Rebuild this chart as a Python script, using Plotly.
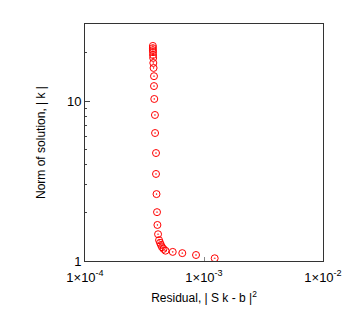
import plotly.graph_objects as go

# Residual |S k - b|^2 (x) and norm of solution |k| (y)
residual = [3.72e-4, 3.72e-4, 3.72e-4, 3.73e-4, 3.73e-4, 3.74e-4, 3.75e-4,
            3.77e-4, 3.80e-4, 3.80e-4, 3.82e-4, 3.87e-4, 3.88e-4, 3.95e-4,
            3.95e-4, 3.99e-4, 4.03e-4, 4.06e-4, 4.11e-4, 4.19e-4, 4.27e-4,
            4.35e-4, 4.44e-4, 4.57e-4, 4.75e-4, 5.46e-4, 6.57e-4, 8.57e-4,
            1.23e-3]
norm = [22.1, 21.4, 20.8, 20.2, 19.4, 18.6, 17.3, 16.1, 14.3, 12.4, 10.3,
        8.18, 6.31, 4.73, 3.50, 2.62, 2.02, 1.68, 1.47, 1.35, 1.30, 1.26,
        1.22, 1.19, 1.16, 1.14, 1.12, 1.09, 1.04]

x_tickvals = [1e-4, 1e-3, 1e-2]
x_ticktext = ["1×10<sup>-4</sup>", "1×10<sup>-3</sup>", "1×10<sup>-2</sup>"]
y_tickvals = [1, 10]
y_ticktext = ["1", "10"]
y_minor = [2, 3, 4, 5, 6, 7, 8, 9, 20]

fig = go.Figure()
fig.add_trace(go.Scatter(
    x=residual, y=norm, mode="markers",
    marker=dict(symbol="circle-open-dot", size=7, color="red",
                line=dict(color="red", width=1)),
    showlegend=False,
))

font = dict(family="Liberation Sans, Arial, sans-serif", size=12, color="black")
tickfont = dict(family="Liberation Sans, Arial, sans-serif", size=13, color="black")

fig.update_layout(
    width=354, height=324,
    margin=dict(l=85, r=31, t=24, b=63),
    paper_bgcolor="white", plot_bgcolor="white",
    font=font,
    xaxis=dict(
        type="log", range=[-4, -2],
        tickvals=x_tickvals, ticktext=x_ticktext, tickfont=tickfont,
        ticklabelstandoff=4,
        ticks="inside", ticklen=4, tickcolor="#888",
        showline=True, linecolor="#333", linewidth=1, mirror=True,
        showgrid=False, zeroline=False,
        title=dict(text="Residual, | S k - b |<sup>2</sup>", standoff=10, font=font),
    ),
    yaxis=dict(
        type="log", range=[0, 1.4815],
        tickvals=y_tickvals, ticktext=y_ticktext, tickfont=tickfont,
        ticks="inside", ticklen=5, tickcolor="#444",
        minor=dict(tickvals=y_minor, ticks="inside", ticklen=2, tickcolor="#444"),
        showline=True, linecolor="#333", linewidth=1, mirror=True,
        showgrid=False, zeroline=False,
        title=dict(text="Norm of solution, | k |", standoff=18, font=font),
    ),
)

fig.write_html("out.html", post_script="document.body.style.margin='0';",
               config={"displayModeBar": False})
